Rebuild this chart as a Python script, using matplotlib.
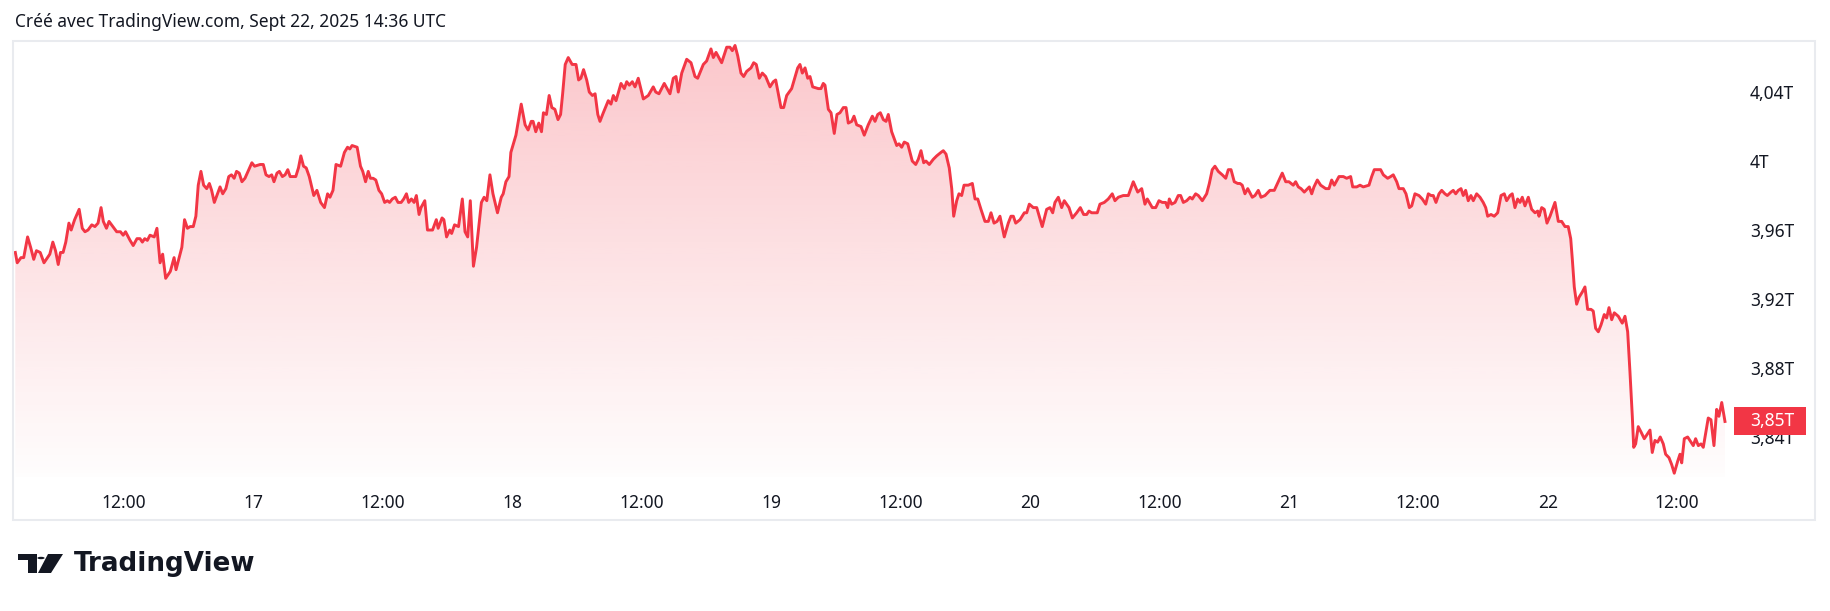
import numpy as np
import matplotlib.pyplot as plt
from matplotlib.patches import Rectangle, Polygon, Circle
from matplotlib.path import Path
from matplotlib.patches import PathPatch
import matplotlib.transforms as mtransforms

plt.rcParams['font.family'] = ['Noto Sans', 'DejaVu Sans']

# heures depuis le 16 sept. 00:00 (heure du graphique)
heures = [
    1.95, 2.13, 2.48, 2.73, 3.09, 3.37, 3.66, 3.91, 4.26, 4.61, 5.15, 5.43, 5.68, 5.93, 6.14, 6.38,
    6.63, 6.92, 7.13, 7.45, 7.87, 8.16, 8.41, 8.69, 9.04, 9.33, 9.62, 9.90, 10.11, 10.40, 10.64, 11.00,
    11.35, 11.70, 11.95, 12.17, 12.59, 12.88, 13.23, 13.51, 13.73, 13.95, 14.19, 14.44, 14.83, 15.08,
    15.37, 15.61, 15.89, 16.32, 16.67, 16.85, 17.39, 17.64, 17.91, 18.16, 18.45, 18.69, 18.91, 19.16,
    19.41, 19.69, 19.94, 20.15, 20.40, 20.93, 21.18, 21.47, 21.74, 21.99, 22.24, 22.46, 22.71, 22.96,
    23.24, 23.52, 23.88, 24.13, 24.65, 24.94, 25.19, 25.47, 25.72, 25.93, 26.21, 26.43, 26.71, 26.96,
    27.21, 27.43, 27.68, 27.95, 28.20, 28.42, 28.67, 28.92, 29.20, 29.62, 29.91, 30.26, 30.61, 30.90,
    31.12, 31.40, 31.68, 32.11, 32.46, 32.75, 32.96, 33.17, 33.64, 33.95, 34.16, 34.42, 34.67, 34.87,
    35.12, 35.37, 35.66, 35.91, 36.19, 36.44, 36.65, 36.90, 37.18, 37.43, 37.72, 37.96, 38.21, 38.42,
    38.67, 38.92, 39.13, 39.38, 39.56, 39.91, 40.16, 40.63, 40.98, 41.15, 41.51, 41.68, 41.93, 42.22,
    42.40, 42.67, 43.04, 43.39, 43.64, 43.89, 44.13, 44.42, 44.71, 45.16, 45.41, 45.66, 45.95, 46.23,
    46.65, 47.00, 47.18, 47.43, 47.72, 47.89, 48.36, 48.85, 49.21, 49.49, 49.78, 49.95, 50.20, 50.48,
    50.73, 50.91, 51.19, 51.44, 51.69, 51.97, 52.26, 52.50, 52.69, 52.93, 53.21, 53.57, 53.93, 54.17,
    54.38, 54.63, 54.92, 55.16, 55.45, 55.70, 55.95, 56.15,
    56.46, 56.92, 57.17, 57.39, 57.64, 58.10, 58.41, 58.63, 58.87, 59.15, 59.40, 59.70, 60.17, 60.63,
    61.09, 61.32, 61.62, 62.11, 62.64, 62.95, 63.20, 63.41, 63.73, 64.19, 64.59, 64.96, 65.21, 65.73,
    66.04, 66.44, 66.66, 66.91, 67.43, 67.90, 68.20, 68.42, 68.67, 68.92, 69.22, 69.47, 69.75, 70.15,
    70.40, 70.64, 70.92, 71.20, 71.51, 71.91, 72.22, 72.44, 72.93, 73.18, 73.46, 73.92, 74.48, 74.69,
    74.91, 75.16, 75.41, 75.62, 75.87, 76.39, 76.64, 76.85, 77.01,
    77.32, 77.57, 77.87, 78.12, 78.40, 78.71, 78.96, 79.17, 79.49, 79.70, 79.95, 80.35, 80.65, 81.02,
    81.40, 81.65, 81.90, 82.14, 82.42, 82.67, 82.88, 83.19, 83.66, 83.87, 84.12, 84.36, 84.68, 85.10,
    85.42, 85.66, 85.91, 86.16, 86.37, 86.68, 87.05, 87.37, 87.76, 87.98, 88.23, 88.53, 88.76, 88.94,
    89.22, 89.43, 89.68, 89.90, 90.29, 90.67, 90.92, 91.17, 91.47, 91.84, 92.15, 92.40, 92.68, 92.96,
    93.23, 93.63, 94.00, 94.25, 94.47, 94.69, 95.09, 95.49, 95.71, 95.95, 96.32, 96.64, 97.15, 97.56,
    97.87, 98.12, 98.33, 98.64, 98.95, 99.19, 99.63, 99.94, 100.34, 100.68, 100.99, 101.27, 101.48,
    101.73, 101.97, 102.25, 102.50, 102.90, 103.27, 103.64, 103.89,
    104.20, 104.66, 105.13, 105.59, 106.00, 106.37, 106.67, 106.89, 107.35, 107.67, 107.97, 108.28,
    108.59, 108.78, 108.93, 109.15, 109.46, 109.76, 109.98, 110.23, 110.54, 110.85, 111.06, 111.37,
    111.62, 111.99, 112.39, 112.64, 112.91, 113.16, 113.47, 113.84, 114.16, 114.40, 114.65, 114.95,
    115.27, 115.48, 115.69, 115.94, 116.20, 116.62, 116.87, 117.18, 117.43, 117.80, 118.26, 118.66,
    119.03, 119.40, 119.72, 120.02, 120.42, 120.64, 120.89, 121.14, 121.44, 121.91, 122.13, 122.34,
    122.65, 122.96, 123.43, 123.73, 123.98, 124.22, 124.66, 125.06, 125.37, 125.74, 125.93, 126.30,
    126.61, 126.91, 127.44, 127.69, 127.93, 128.30, 128.52, 128.77, 129.17, 129.45, 129.69, 130.01,
    130.22, 130.62, 130.87, 131.18, 131.40, 131.70,
    132.07, 132.38, 132.70, 132.94, 133.19, 133.40, 133.65, 133.93, 134.18, 134.48, 134.70, 135.04,
    135.25, 135.48, 135.72, 135.97, 136.18, 136.40, 136.64, 136.89, 137.11, 137.42, 137.73, 138.03,
    138.26, 138.44, 138.75, 139.05, 139.37, 139.68, 139.98, 140.20, 140.51, 140.72, 140.97, 141.22,
    141.44, 141.65, 141.90, 142.21, 142.52, 142.83, 143.08, 143.20, 143.45, 143.69, 143.94, 144.22,
    144.68, 144.99, 145.30, 145.61, 145.91, 146.14, 146.29, 146.47, 146.69, 146.91, 147.21, 147.46,
    147.71, 148.02, 148.23, 148.45, 148.70, 148.95, 149.25, 149.47, 149.69, 149.94, 150.18, 150.55,
    150.92, 151.17, 151.42, 151.63, 151.85, 151.98, 152.16, 152.40, 152.65, 152.96, 153.28, 153.49,
    153.70, 153.95, 154.20, 154.44, 154.72, 154.94, 155.25, 155.50, 155.74, 156.06, 156.27, 156.43,
    156.67, 156.98, 157.29, 157.50, 157.72, 157.97, 158.22, 158.43, 158.65, 158.89, 159.14, 159.42,
    159.67, 159.88, 160.14, 160.44,
]

# capitalisation en billions (T)
valeurs = [
    3.947, 3.941, 3.944, 3.944, 3.956, 3.950, 3.943, 3.948, 3.947, 3.941, 3.946, 3.953, 3.948, 3.940, 3.947, 3.947,
    3.953, 3.964, 3.960, 3.966, 3.972, 3.961, 3.959, 3.960, 3.963, 3.962, 3.964, 3.973, 3.965, 3.961, 3.965, 3.962,
    3.959, 3.959, 3.957, 3.959, 3.954, 3.951, 3.955, 3.955, 3.953, 3.955, 3.954, 3.957, 3.956, 3.961,
    3.941, 3.946, 3.932, 3.936, 3.944, 3.937, 3.950, 3.966, 3.961, 3.962, 3.962, 3.968, 3.986, 3.994,
    3.986, 3.984, 3.987, 3.983, 3.976, 3.985, 3.981, 3.984, 3.991, 3.992, 3.990, 3.994, 3.993, 3.988,
    3.990, 3.994, 3.999, 3.997, 3.998, 3.998, 3.992, 3.991, 3.992, 3.988, 3.993, 3.994, 3.991, 3.992,
    3.995, 3.991, 3.991, 3.991, 3.996, 4.003, 3.997, 3.996, 3.991, 3.980, 3.983, 3.976, 3.973, 3.981,
    3.979, 3.983, 3.998, 3.997, 4.005, 4.008, 4.007, 4.009, 4.008, 3.997, 3.994, 3.988, 3.994, 3.990,
    3.990, 3.989, 3.983, 3.981, 3.976, 3.977, 3.976, 3.978, 3.979, 3.976, 3.976, 3.978, 3.981, 3.976,
    3.978, 3.976, 3.980, 3.969, 3.973, 3.977, 3.960, 3.960, 3.966, 3.961, 3.967, 3.966, 3.956, 3.960,
    3.958, 3.963, 3.962, 3.978, 3.959, 3.956, 3.977, 3.939, 3.950, 3.976, 3.979, 3.977, 3.992, 3.981,
    3.970, 3.979, 3.981, 3.988, 3.991, 4.005, 4.015, 4.033, 4.021, 4.018, 4.023, 4.023, 4.017, 4.022,
    4.017, 4.028, 4.027, 4.038, 4.031, 4.030, 4.024, 4.027, 4.039, 4.056, 4.060, 4.056, 4.056, 4.047,
    4.048, 4.053, 4.047, 4.040, 4.038, 4.039, 4.027, 4.023,
    4.028, 4.035, 4.033, 4.038, 4.035, 4.045, 4.042, 4.046, 4.044, 4.046, 4.043, 4.048, 4.036, 4.038,
    4.043, 4.040, 4.039, 4.045, 4.039, 4.048, 4.049, 4.040, 4.051, 4.059, 4.057, 4.049, 4.048, 4.056,
    4.058, 4.065, 4.060, 4.063, 4.057, 4.066, 4.066, 4.064, 4.067, 4.061, 4.051, 4.049, 4.052, 4.054,
    4.057, 4.056, 4.048, 4.051, 4.049, 4.043, 4.046, 4.047, 4.031, 4.031, 4.038, 4.042, 4.054, 4.056,
    4.051, 4.054, 4.048, 4.049, 4.043, 4.042, 4.042, 4.045, 4.044,
    4.030, 4.028, 4.016, 4.027, 4.028, 4.031, 4.031, 4.022, 4.023, 4.026, 4.021, 4.020, 4.015, 4.021,
    4.026, 4.023, 4.027, 4.028, 4.024, 4.023, 4.027, 4.017, 4.009, 4.010, 4.008, 4.011, 4.010, 4.000,
    3.998, 4.001, 4.006, 3.999, 4.000, 3.998, 4.001, 4.003, 4.005, 4.006, 4.004, 3.996, 3.984, 3.968,
    3.977, 3.981, 3.980, 3.986, 3.986, 3.987, 3.978, 3.978, 3.972, 3.965, 3.965, 3.970, 3.964, 3.965,
    3.968, 3.956, 3.964, 3.968, 3.968, 3.964, 3.966, 3.970, 3.970, 3.975, 3.973, 3.973, 3.962, 3.972,
    3.973, 3.970, 3.976, 3.979, 3.973, 3.977, 3.973, 3.967, 3.970, 3.973, 3.969, 3.969, 3.971,
    3.970, 3.970, 3.970, 3.975, 3.976, 3.978, 3.981, 3.977,
    3.979, 3.980, 3.980, 3.988, 3.982, 3.984, 3.975, 3.978, 3.973, 3.973, 3.977, 3.976,
    3.976, 3.973, 3.978, 3.975, 3.976, 3.980, 3.980, 3.976, 3.977, 3.979, 3.978, 3.981,
    3.980, 3.977, 3.981, 3.987, 3.995, 3.997, 3.994, 3.992, 3.990, 3.995, 3.995, 3.988,
    3.987, 3.987, 3.986, 3.981, 3.984, 3.979, 3.980, 3.983, 3.979, 3.980, 3.983, 3.983,
    3.988, 3.993, 3.988, 3.988, 3.986, 3.988, 3.985, 3.984, 3.982, 3.985, 3.981, 3.985,
    3.989, 3.986, 3.984, 3.984, 3.989, 3.986, 3.991, 3.991, 3.990, 3.991, 3.985, 3.985,
    3.986, 3.985, 3.986, 3.991, 3.995, 3.995, 3.995, 3.992, 3.990, 3.991, 3.992, 3.988,
    3.984, 3.984, 3.981, 3.973, 3.974, 3.981,
    3.980, 3.978, 3.975, 3.981, 3.980, 3.980, 3.976, 3.981, 3.983, 3.981, 3.980, 3.982,
    3.983, 3.981, 3.983, 3.984, 3.980, 3.983, 3.977, 3.980, 3.977, 3.981, 3.979, 3.976,
    3.973, 3.968, 3.969, 3.968, 3.970, 3.980, 3.981, 3.977, 3.980, 3.981, 3.973, 3.978,
    3.976, 3.979, 3.974, 3.979, 3.972, 3.970, 3.971, 3.968, 3.973, 3.972, 3.964, 3.968,
    3.976, 3.965, 3.965, 3.962, 3.962, 3.955, 3.943, 3.927, 3.917, 3.921, 3.924, 3.927,
    3.914, 3.914, 3.913, 3.903, 3.901, 3.905, 3.911, 3.909, 3.915, 3.908, 3.912, 3.910,
    3.906, 3.910, 3.901, 3.878, 3.852, 3.834, 3.836, 3.846, 3.843, 3.839, 3.842, 3.844,
    3.831, 3.838, 3.837, 3.840, 3.836, 3.830, 3.828, 3.824, 3.819, 3.826, 3.830, 3.825,
    3.839, 3.840, 3.837, 3.835, 3.839, 3.835, 3.836, 3.834, 3.842, 3.851, 3.850, 3.835,
    3.856, 3.852, 3.860, 3.849,
]

graduations_y = [3.84, 3.88, 3.92, 3.96, 4.00, 4.04]
etiquettes_y = ['3,84T', '3,88T', '3,92T', '3,96T', '4T', '4,04T']
graduations_x = [12, 24, 36, 48, 60, 72, 84, 96, 108, 120, 132, 144, 156]
etiquettes_x = ['12:00', '17', '12:00', '18', '12:00', '19', '12:00', '20', '12:00', '21', '12:00', '22', '12:00']

titre = 'Créé avec TradingView.com, Sept 22, 2025 14:36 UTC'
rouge = '#f23645'
encre = '#131722'

W, H = 1830, 611


def px(x, y):
    """pixel (origine en haut a gauche) -> fraction de figure"""
    return x / W, 1 - y / H


fig = plt.figure(figsize=(W / 100, H / 100), dpi=100)
fig.patch.set_facecolor('white')

# zone de tracé
ax = fig.add_axes([14 / W, 134 / H, 1721 / W, 436 / H])
x = np.array(heures)
y = np.array(valeurs)

x0, x1 = 1.83, 161.37
y0, y1 = 3.8168, 4.0696

# remplissage en dégradé sous la courbe
verts = np.vstack([[x[0], y0], np.column_stack([x, y]), [x[-1], y0]])
clip = PathPatch(Path(verts), facecolor='none', edgecolor='none')
ax.add_patch(clip)
n = 256
grad = np.zeros((n, 1, 4))
grad[:, 0, 0] = 242 / 255
grad[:, 0, 1] = 54 / 255
grad[:, 0, 2] = 69 / 255
grad[:, 0, 3] = np.linspace(0.28, 0.01, n)
img = ax.imshow(grad, extent=[x0, x1, y0, y.max()], origin='upper', aspect='auto', zorder=1)
img.set_clip_path(clip)

ax.plot(x, y, color=rouge, lw=2.1, solid_joinstyle='round', zorder=3)

ax.set_xlim(x0, x1)
ax.set_ylim(y0, y1)
for s in ax.spines.values():
    s.set_visible(False)

ax.yaxis.tick_right()
ax.set_yticks(graduations_y)
ax.set_yticklabels(etiquettes_y)
ax.set_xticks(graduations_x)
ax.set_xticklabels(etiquettes_x)
ax.tick_params(axis='y', length=0, pad=10.8, labelsize=12.5, labelcolor=encre)
ax.tick_params(axis='x', length=0, pad=12.5, labelsize=12.5, labelcolor=encre)

# étiquette du dernier cours
dernier = valeurs[-1]
trans = mtransforms.blended_transform_factory(ax.transAxes, ax.transData)
ax.add_patch(Rectangle((0.9994, dernier - 0.0081), 0.0419, 0.0162, transform=trans,
                       facecolor=rouge, edgecolor='none', clip_on=False, zorder=5))
ax.text(1.0087, dernier, f'{dernier:.2f}'.replace('.', ',') + 'T', transform=trans,
        ha='left', va='center', color='white', fontsize=12.5, fontweight='bold', zorder=6)

# cadre gris clair
fig.patches.append(Rectangle(px(13, 520), 1802 / W, 479 / H, transform=fig.transFigure,
                             fill=False, edgecolor='#e9ebef', lw=1.5))

fig.text(*px(15, 22), titre, ha='left', va='center', fontsize=12.5, color=encre)

# logo TradingView
noir = '#131722'
fig.patches.append(Polygon([px(18, 554), px(37, 554), px(37, 573), px(28, 573), px(28, 560), px(18, 560)],
                           closed=True, transform=fig.transFigure, facecolor=noir, edgecolor='none'))
cx, cy = px(41, 558)
fig.patches.append(Circle((cx, cy), 3.6 / W, transform=fig.transFigure, facecolor=noir, edgecolor='none'))
fig.patches.append(Polygon([px(48, 554), px(63, 554), px(51, 573), px(38, 573)],
                           closed=True, transform=fig.transFigure, facecolor=noir, edgecolor='none'))
fig.text(*px(74, 564), 'TradingView', ha='left', va='center', fontsize=18.8, fontweight='bold',
         color=noir, family='DejaVu Sans')

fig.savefig('out.png', dpi=100)
